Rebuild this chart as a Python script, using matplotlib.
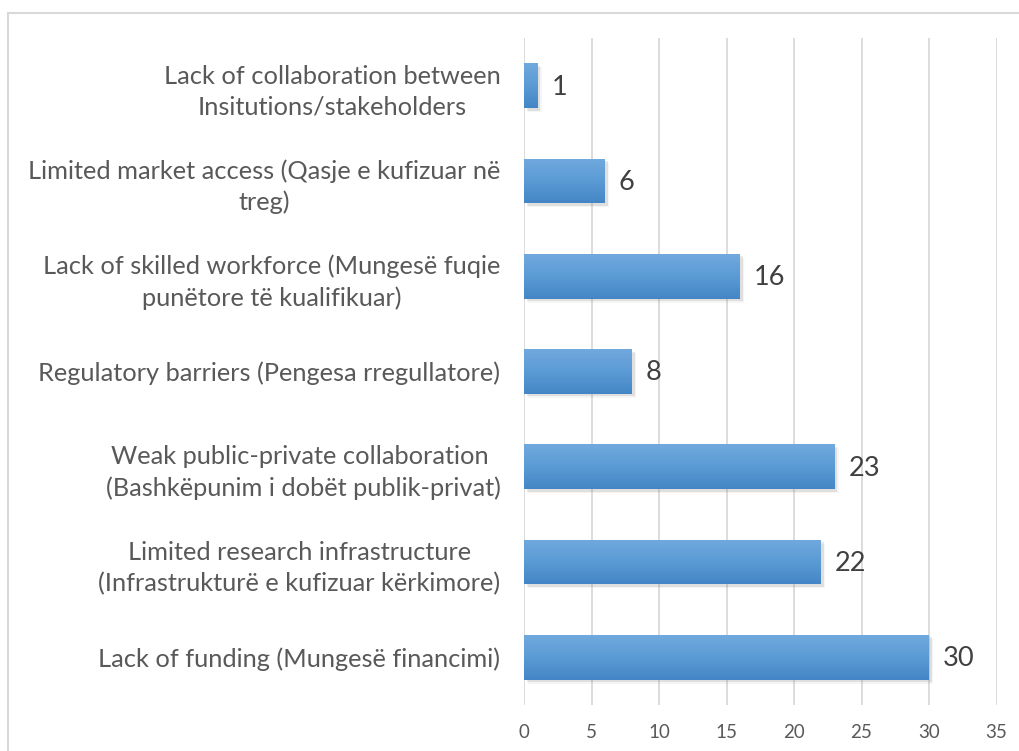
import numpy as np
import matplotlib.pyplot as plt
from matplotlib import transforms
from matplotlib.lines import Line2D
from matplotlib.colors import LinearSegmentedColormap

# categories from bottom to top
categories = [
    "Lack of funding (Mungesë financimi)",
    "Limited research infrastructure\n(Infrastrukturë e kufizuar kërkimore)",
    "Weak public-private collaboration \n(Bashkëpunim i dobët publik-privat)",
    "Regulatory barriers (Pengesa rregullatore)",
    "Lack of skilled workforce (Mungesë fuqie\npunëtore të kualifikuar)",
    "Limited market access (Qasje e kufizuar në\ntreg)",
    "Lack of collaboration between\nInsitutions/stakeholders",
]
counts = [30, 22, 23, 8, 16, 6, 1]
x_ticks = [0, 5, 10, 15, 20, 25, 30, 35]

plt.rcParams['font.family'] = ['Lato', 'DejaVu Sans']
text_col = "#595959"

fig = plt.figure(figsize=(10.19, 7.51), dpi=100)
ax = fig.add_axes([524 / 1019, 1 - 705 / 751, (996.5 - 524) / 1019, (705 - 38) / 751])

# chart border (only top and left visible in the crop)
fig.add_artist(Line2D([8 / 1019, 1], [1 - 13 / 751, 1 - 13 / 751], transform=fig.transFigure,
                      color="#d9d9d9", lw=1.5))
fig.add_artist(Line2D([8 / 1019, 8 / 1019], [0, 1 - 13 / 751], transform=fig.transFigure,
                      color="#d9d9d9", lw=1.5))

y = np.arange(len(categories))
h = 0.47

# soft shadow
for off, a in [(0, 0.18), (1.5, 0.08)]:
    tr = transforms.offset_copy(ax.transData, fig=fig, x=2.5 + off, y=-2.5 - off, units='dots')
    ax.barh(y, counts, height=h, color="#808080", alpha=a, transform=tr, zorder=2, linewidth=0)

bars = ax.barh(y, counts, height=h, color="#5b9bd5", zorder=3, linewidth=0)

cmap = LinearSegmentedColormap.from_list("xl", ["#4485c6", "#5b9bd5", "#70a9dd"])
grad = np.linspace(0, 1, 64).reshape(-1, 1)
for b in bars:
    x0, y0 = b.get_x(), b.get_y()
    im = ax.imshow(grad, cmap=cmap, aspect='auto', origin='lower', zorder=4,
                   extent=(x0, x0 + b.get_width(), y0, y0 + b.get_height()))
    im.set_clip_path(b)

for yi, v in zip(y, counts):
    ax.annotate(str(v), (v, yi), xytext=(10, -1), textcoords='offset points',
                va='center', ha='left', fontsize=19.5, color="#404040", zorder=5)

ax.set_xlim(0, 35)
ax.set_ylim(-0.5, len(categories) - 0.5)
ax.set_xticks(x_ticks)
ax.set_yticks(y)
ax.set_yticklabels(categories, multialignment='center', fontsize=18.3, color=text_col,
                   linespacing=1.4)
ax.tick_params(axis='y', length=0, pad=17)
ax.tick_params(axis='x', length=0, pad=14, labelsize=13.5, labelcolor=text_col)
ax.grid(axis='x', color="#d9d9d9", lw=1.3, zorder=0)
ax.set_axisbelow(True)
for s in ax.spines.values():
    s.set_visible(False)

fig.savefig("out.png", dpi=100)
